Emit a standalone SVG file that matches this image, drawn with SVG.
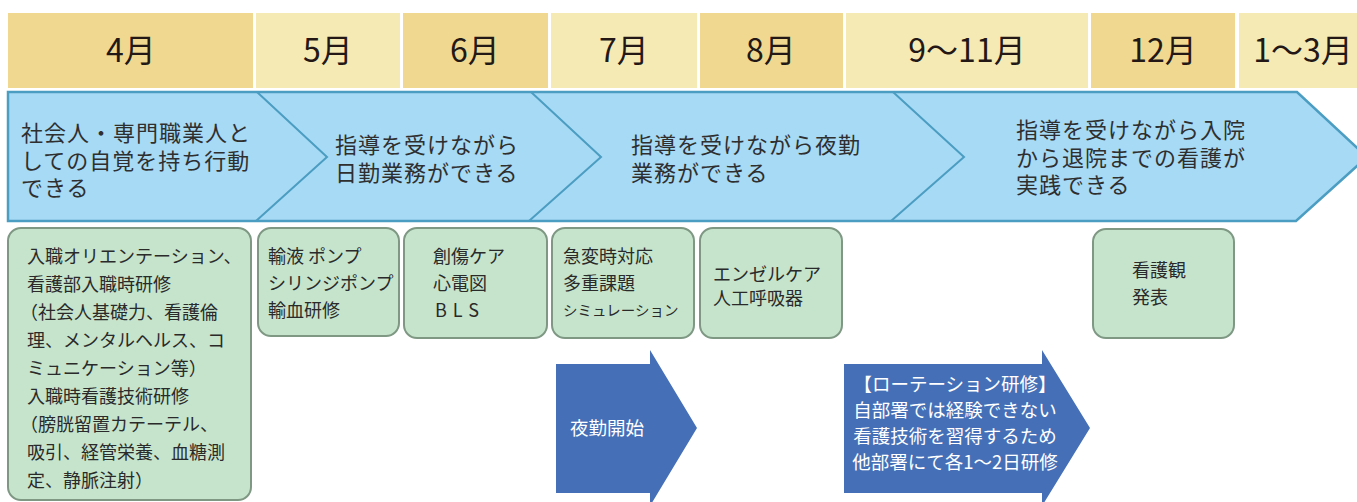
<svg xmlns="http://www.w3.org/2000/svg" width="1357" height="502" viewBox="0 0 1357 502">
<style>
.hd{fill:#F0D890}
.hl{fill:#F6EAB4}
.ht{font-family:"Noto Sans CJK JP","Noto Sans",sans-serif;font-size:32px;fill:#231815;text-anchor:middle}
.ct{font-family:"Noto Sans CJK JP","Noto Sans",sans-serif;font-size:22px;letter-spacing:1px;fill:#2f2f2f}
.gb{fill:#C6E4CC;stroke:#7E9884;stroke-width:2}
.bt{font-family:"Noto Sans CJK JP","Noto Sans",sans-serif;font-size:18px;fill:#2a2a2a}
.ar{fill:#4570B7}
.wt{font-family:"Noto Sans CJK JP","Noto Sans",sans-serif;font-size:18.5px;fill:#ffffff}
</style>
<rect width="1357" height="502" fill="#ffffff"/>
<g id="header">
<rect class="hd" x="8" y="13" width="245" height="75"/>
<rect class="hl" x="256" y="13" width="144" height="75"/>
<rect class="hd" x="403" y="13" width="145" height="75"/>
<rect class="hl" x="551" y="13" width="146" height="75"/>
<rect class="hd" x="700" y="13" width="143" height="75"/>
<rect class="hl" x="846" y="13" width="242" height="75"/>
<rect class="hd" x="1091" y="13" width="144" height="75"/>
<rect class="hl" x="1239" y="13" width="118" height="75"/>
<text class="ht" x="131" y="62">4月</text>
<text class="ht" x="328" y="62">5月</text>
<text class="ht" x="475" y="62">6月</text>
<text class="ht" x="624" y="62">7月</text>
<text class="ht" x="771" y="62">8月</text>
<text class="ht" x="967" y="62">9～11月</text>
<text class="ht" x="1163" y="62">12月</text>
<text class="ht" x="1303" y="62">1～3月</text>
</g>
<g id="chevrons">
<polygon points="8,92 1297,92 1367,157 1296,221 8,221" fill="#A7DAF5" stroke="#4B9DC2" stroke-width="2.5"/>
<polyline points="257,92 327,157 256,221" fill="none" stroke="#4B9DC2" stroke-width="2"/>
<polyline points="531,92 601,157 529,221" fill="none" stroke="#4B9DC2" stroke-width="2"/>
<polyline points="893,92 964,157 891,221" fill="none" stroke="#4B9DC2" stroke-width="2"/>
<g id="goal1"><text class="ct" x="21" y="141">社会人・専門職業人と</text><text class="ct" x="21" y="168.5">しての自覚を持ち行動</text><text class="ct" x="21" y="196">できる</text></g>
<g id="goal2"><text class="ct" x="335" y="153">指導を受けながら</text><text class="ct" x="335" y="180.5">日勤業務ができる</text></g>
<g id="goal3"><text class="ct" x="631" y="153">指導を受けながら夜勤</text><text class="ct" x="631" y="180.5">業務ができる</text></g>
<g id="goal4"><text class="ct" x="1016" y="138">指導を受けながら入院</text><text class="ct" x="1016" y="165.5">から退院までの看護が</text><text class="ct" x="1016" y="193">実践できる</text></g>
</g>
<g id="box-apr">
<rect class="gb" x="8" y="228" width="243" height="272" rx="13"/>
<text class="bt"><tspan x="27" y="263">入職オリエンテーション、</tspan><tspan x="27" y="291">看護部入職時研修</tspan><tspan x="20" y="319">（社会人基礎力、看護倫</tspan><tspan x="27" y="347">理、メンタルヘルス、コ</tspan><tspan x="27" y="375">ミュニケーション等）</tspan><tspan x="27" y="403">入職時看護技術研修</tspan><tspan x="20" y="431">（膀胱留置カテーテル、</tspan><tspan x="27" y="459">吸引、経管栄養、血糖測</tspan><tspan x="27" y="487">定、静脈注射）</tspan></text>
</g>
<g id="box-may">
<rect class="gb" x="258" y="228" width="141" height="108" rx="13"/>
<text class="bt"><tspan x="268" y="263">輸液 ポンプ</tspan><tspan x="268" y="290">シリンジポンプ</tspan><tspan x="268" y="317">輸血研修</tspan></text>
</g>
<g id="box-jun">
<rect class="gb" x="404" y="228" width="143" height="110" rx="13"/>
<text class="bt"><tspan x="433" y="263">創傷ケア</tspan><tspan x="433" y="290">心電図</tspan><tspan x="435" y="317" letter-spacing="6">BLS</tspan></text>
</g>
<g id="box-jul">
<rect class="gb" x="552" y="228" width="142" height="110" rx="13"/>
<text class="bt" font-size="19"><tspan x="563" y="263">急変時対応</tspan><tspan x="563" y="290">多重課題</tspan><tspan x="563" y="316" font-size="14.5">シミュレーション</tspan></text>
</g>
<g id="box-aug">
<rect class="gb" x="700" y="228" width="142" height="110" rx="13"/>
<text class="bt" font-size="19"><tspan x="713" y="281">エンゼルケア</tspan><tspan x="713" y="305">人工呼吸器</tspan></text>
</g>
<g id="box-dec">
<rect class="gb" x="1093" y="229" width="141" height="109" rx="13"/>
<text class="bt" font-size="19.5"><tspan x="1132" y="277">看護観</tspan><tspan x="1132" y="304">発表</tspan></text>
</g>
<g id="arrow-night">
<polygon class="ar" points="556,364 650,364 650,350 697,428 650,506 650,493 556,493"/>
<text class="wt" x="570" y="435" font-size="19.5">夜勤開始</text>
</g>
<g id="arrow-rotation">
<polygon class="ar" points="844,364 1042,364 1042,350 1090,428 1042,506 1042,493 844,493"/>
<text class="wt" text-anchor="middle"><tspan x="955" y="391">【ローテーション研修】</tspan><tspan x="955" y="417">自部署では経験できない</tspan><tspan x="955" y="443">看護技術を習得するため</tspan><tspan x="955" y="469">他部署にて各1～2日研修</tspan></text>
</g>
</svg>
